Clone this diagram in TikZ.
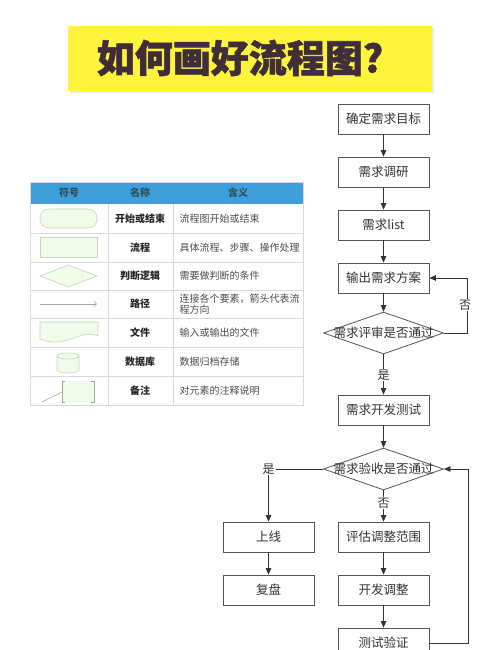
\documentclass[tikz,border=0pt]{standalone}
\usepackage{fontspec}
\setmainfont{Noto Sans CJK SC}
\newfontfamily\titlefont[FakeBold=1.5]{Noto Sans CJK SC}
\usetikzlibrary{shapes.geometric,arrows.meta}
\definecolor{banner}{HTML}{FFF33B}
\definecolor{titletxt}{HTML}{3F2E3A}
\definecolor{hdr}{HTML}{3D9ED9}
\definecolor{hdrtxt}{HTML}{2C4F5C}
\definecolor{grid}{HTML}{D9D9D9}
\definecolor{symfill}{HTML}{F1FBEA}
\definecolor{symline}{HTML}{C5D6BE}
\definecolor{boxline}{HTML}{555555}
\definecolor{txt}{HTML}{333333}
\tikzset{
  fbox/.style={draw=boxline, line width=0.8pt, fill=white, minimum width=91pt, minimum height=30pt, inner sep=0pt, font=\fontsize{12.5}{14}\selectfont, text=txt},
  dia/.style={draw=boxline, line width=0.8pt, fill=white, shape=diamond, minimum width=120pt, minimum height=42pt, inner sep=0pt},
  diatxt/.style={font=\fontsize{12.5}{14}\selectfont, text=txt, inner sep=0pt},
  arr/.style={draw=txt, line width=0.8pt, -{Triangle[length=6.5pt,width=5.5pt]}},
  lbl/.style={fill=white, font=\fontsize{12}{14}\selectfont, text=txt, inner sep=1pt},
  sym/.style={draw=symline, fill=symfill, line width=0.6pt},
  hd/.style={font=\fontsize{10}{12}\selectfont\bfseries, text=hdrtxt},
  nm/.style={font=\fontsize{10}{12}\selectfont\bfseries, text=black!85},
  mn/.style={font=\fontsize{10}{12}\selectfont, text=black!70, anchor=west, align=left},
}
\begin{document}
\begin{tikzpicture}[x=1pt,y=-1pt]
\useasboundingbox[fill=white] (0,0) rectangle (500,650);
% title
\fill[black!8] (70,28) rectangle (434,93);
\node[fill=banner, minimum width=364pt, minimum height=65pt, inner sep=0pt] (banner) at (250,58.5) {};
\node[font=\fontsize{38}{40}\titlefont\bfseries, text=titletxt] (title) at (240,58) {如何画好流程图?};
% table
\fill[hdr] (30,182) rectangle (303,204);
\node[hd] (h1) at (69,193) {符号};
\node[hd] (h2) at (140,193) {名称};
\node[hd] (h3) at (238,193) {含义};
\foreach \y in {233,262,290,318,347,376} \draw[grid, line width=0.6pt] (30,\y) -- (303,\y);
\draw[grid, line width=0.6pt] (108,204) -- (108,405) (173,204) -- (173,405);
\draw[grid, line width=0.6pt] (30,182) rectangle (303,405);
% symbols
\draw[sym, rounded corners=9pt] (40,209) rectangle (97,228);
\draw[sym] (40,237) rectangle (97,257);
\draw[sym] (40,276) -- (68.5,265) -- (97,276) -- (68.5,287) -- cycle;
\draw[symline!80!black, line width=0.6pt, -{To[length=3pt]}] (40,304) -- (97,304);
\draw[sym] (40,322) -- (98,322) -- (98,336) .. controls (80,328) and (66,350) .. (40,339) -- cycle;
\draw[sym] (57,356) -- (57,370) arc[start angle=180, end angle=360, x radius=11pt, y radius=3pt] -- (79,356);
\draw[sym] (68,356) ellipse[x radius=11pt, y radius=3pt];
\fill[symfill] (62,381) rectangle (94,402);
\draw[symline!80!black, line width=0.6pt] (65,381) -- (62,381) -- (62,402) -- (65,402);
\draw[symline!80!black, line width=0.6pt] (91,381) -- (94,381) -- (94,402) -- (91,402);
\draw[symline!80!black, line width=0.6pt] (42,402) -- (62,392);
% names
\node[nm] (n1) at (140,218.5) {开始或结束};
\node[nm] (n2) at (140,247.5) {流程};
\node[nm] (n3) at (140,276) {判断逻辑};
\node[nm] (n4) at (140,304) {路径};
\node[nm] (n5) at (140,332.5) {文件};
\node[nm] (n6) at (140,361.5) {数据库};
\node[nm] (n7) at (140,390.5) {备注};
% meanings
\node[mn] (m1) at (176,218.5) {流程图开始或结束};
\node[mn] (m2) at (176,247.5) {具体流程、步骤、操作处理};
\node[mn] (m3) at (176,276) {需要做判断的条件};
\node[mn, font=\fontsize{10}{11}\selectfont] (m4) at (176,304) {连接各个要素，箭头代表流\\程方向};
\node[mn] (m5) at (176,332.5) {输入或输出的文件};
\node[mn] (m6) at (176,361.5) {数据归档存储};
\node[mn] (m7) at (176,390.5) {对元素的注释说明};
% flowchart
\node[fbox] (b1) at (383.5,119) {确定需求目标};
\node[fbox] (b2) at (383.5,172) {需求调研};
\node[fbox] (b3) at (383.5,225) {需求list};
\node[fbox] (b4) at (383.5,278) {输出需求方案};
\node[dia] (d1) at (383.5,333) {};
\node[diatxt] (d1t) at (d1) {需求评审是否通过};
\node[fbox] (b5) at (383.5,410) {需求开发测试};
\node[dia] (d2) at (383.5,469) {};
\node[diatxt] (d2t) at (d2) {需求验收是否通过};
\node[fbox] (s1) at (268.5,537) {上线};
\node[fbox] (s2) at (268.5,590) {复盘};
\node[fbox] (e1) at (383.5,537) {评估调整范围};
\node[fbox] (e2) at (383.5,590) {开发调整};
\node[fbox] (e3) at (383.5,643) {测试验证};
\coordinate (r1) at (467,333);
\coordinate (r2) at (468,643);
\draw[arr] (b1) -- (b2);
\draw[arr] (b2) -- (b3);
\draw[arr] (b3) -- (b4);
\draw[arr] (b4) -- (d1.north);
\draw[arr] (d1.east) -- (r1) |- (b4.east);
\node[lbl] (no1) at (465,305) {否};
\draw[arr] (d1.south) -- (b5.north);
\node[lbl] (yes1) at (383.5,375) {是};
\draw[arr] (b5) -- (d2.north);
\draw[arr] (d2.west) -| (s1.north);
\node[lbl] (yes2) at (268.5,469) {是};
\draw[arr] (s1) -- (s2);
\draw[arr] (d2.south) -- (e1.north);
\node[lbl] (no2) at (383.5,503) {否};
\draw[arr] (e1) -- (e2);
\draw[arr] (e2) -- (e3);
\draw[arr] (e3.east) -- (r2) |- (d2.east);
\end{tikzpicture}
\end{document}
